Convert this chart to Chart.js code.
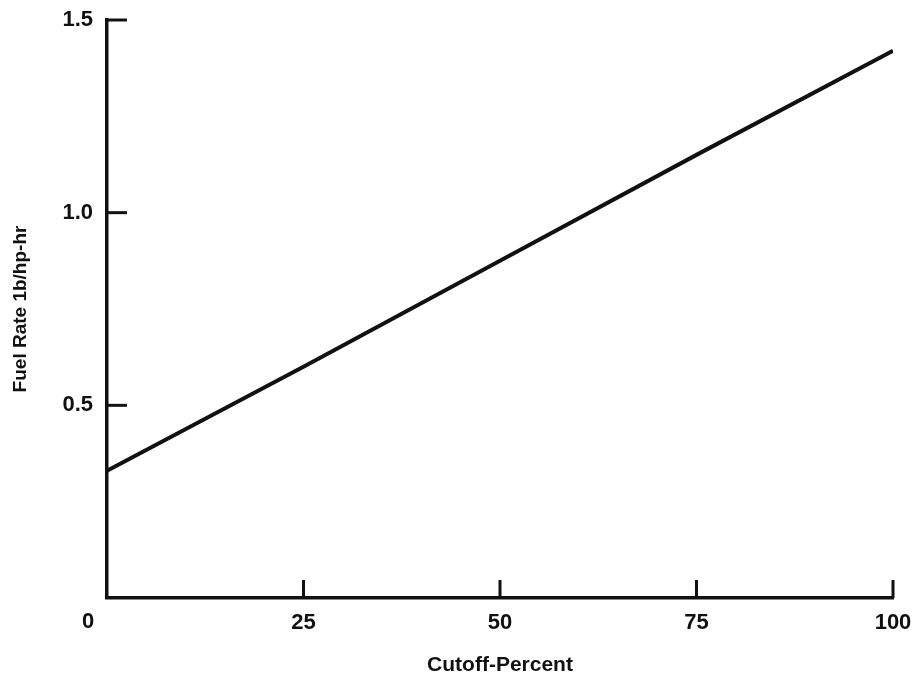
<!DOCTYPE html>
<html>
<head>
<meta charset="utf-8">
<title>Fuel Rate vs Cutoff</title>
<script src="https://cdn.jsdelivr.net/npm/chart.js@4.4.1/dist/chart.umd.min.js"></script>
<style>
  html, body { margin: 0; padding: 0; background: #fff; }
  #fuelChart { display: block; }
</style>
</head>
<body>
<canvas id="fuelChart" width="915" height="678"></canvas>
<script>
// values
const cutoffPercent = [0, 25, 50, 75, 100];
const fuelRate = [0.33, 0.60, 0.875, 1.15, 1.42];
const xTickValues = [0, 25, 50, 75, 100];
const yTickValues = [0.5, 1.0, 1.5];

const INK = '#111';
const FONT = '"Liberation Sans", Arial, sans-serif';

// ticks in the original point inward, and the x "0" sits off to the left of the origin
const inwardTicks = {
    id: 'inwardTicks',
    afterDraw(chart) {
        const { ctx, chartArea, scales } = chart;
        ctx.save();
        ctx.strokeStyle = INK;
        ctx.lineWidth = 3;
        yTickValues.forEach(v => {
            const y = scales.y.getPixelForValue(v);
            ctx.beginPath();
            ctx.moveTo(chartArea.left, y);
            ctx.lineTo(chartArea.left + 20, y);
            ctx.stroke();
        });
        xTickValues.slice(1).forEach(v => {
            const x = scales.x.getPixelForValue(v);
            ctx.beginPath();
            ctx.moveTo(x, chartArea.bottom);
            ctx.lineTo(x, chartArea.bottom - 18);
            ctx.stroke();
        });
        ctx.fillStyle = INK;
        ctx.font = 'bold 22px ' + FONT;
        ctx.textAlign = 'center';
        ctx.textBaseline = 'middle';
        ctx.fillText('0', chartArea.left - 19, chartArea.bottom + 24);
        ctx.restore();
    }
};

const ctx = document.getElementById('fuelChart').getContext('2d');
const fuelChart = new Chart(ctx, {
    type: 'line',
    data: {
        labels: cutoffPercent,
        datasets: [{
            label: 'Fuel Rate',
            data: cutoffPercent.map((x, i) => ({ x: x, y: fuelRate[i] })),
            borderColor: INK,
            borderWidth: 4,
            pointRadius: 0,
            tension: 0,
            fill: false,
        }]
    },
    options: {
        responsive: false,
        animation: false,
        layout: { padding: { top: 20, right: 22, left: 0, bottom: 0 } },
        plugins: {
            legend: { display: false },
            tooltip: { enabled: false }
        },
        scales: {
            x: {
                type: 'linear',
                min: 0,
                max: 100,
                afterBuildTicks: (scale) => { scale.ticks = xTickValues.map(v => ({ value: v })); },
                afterFit: (scale) => {
                    scale.height = 80;
                    scale.paddingLeft = 0;
                    scale.paddingRight = 0;
                },
                border: { display: true, color: INK, width: 3.5 },
                grid: { display: true, drawOnChartArea: false, drawTicks: false },
                ticks: {
                    padding: 12,
                    color: INK,
                    font: { family: FONT, size: 22, weight: 'bold' },
                    maxRotation: 0,
                    callback: (v) => v === 0 ? '' : String(v)
                },
                title: {
                    display: true,
                    text: 'Cutoff-Percent',
                    color: INK,
                    font: { family: FONT, size: 21, weight: 'bold' },
                    padding: { top: 0, bottom: 0 }
                }
            },
            y: {
                min: 0,
                max: 1.5,
                afterBuildTicks: (scale) => { scale.ticks = [0].concat(yTickValues).map(v => ({ value: v })); },
                afterFit: (scale) => {
                    scale.width = 107;
                    scale.paddingTop = 0;
                    scale.paddingBottom = 0;
                },
                border: { display: true, color: INK, width: 3.5 },
                grid: { display: true, drawOnChartArea: false, drawTicks: false },
                ticks: {
                    padding: 14,
                    color: INK,
                    font: { family: FONT, size: 22, weight: 'bold' },
                    callback: (v) => v === 0 ? '' : v.toFixed(1)
                },
                title: {
                    display: true,
                    text: 'Fuel Rate 1b/hp-hr',
                    color: INK,
                    font: { family: FONT, size: 19, weight: 'bold' },
                    padding: { top: 9, bottom: 0 }
                }
            }
        }
    },
    plugins: [inwardTicks]
});
</script>
</body>
</html>
